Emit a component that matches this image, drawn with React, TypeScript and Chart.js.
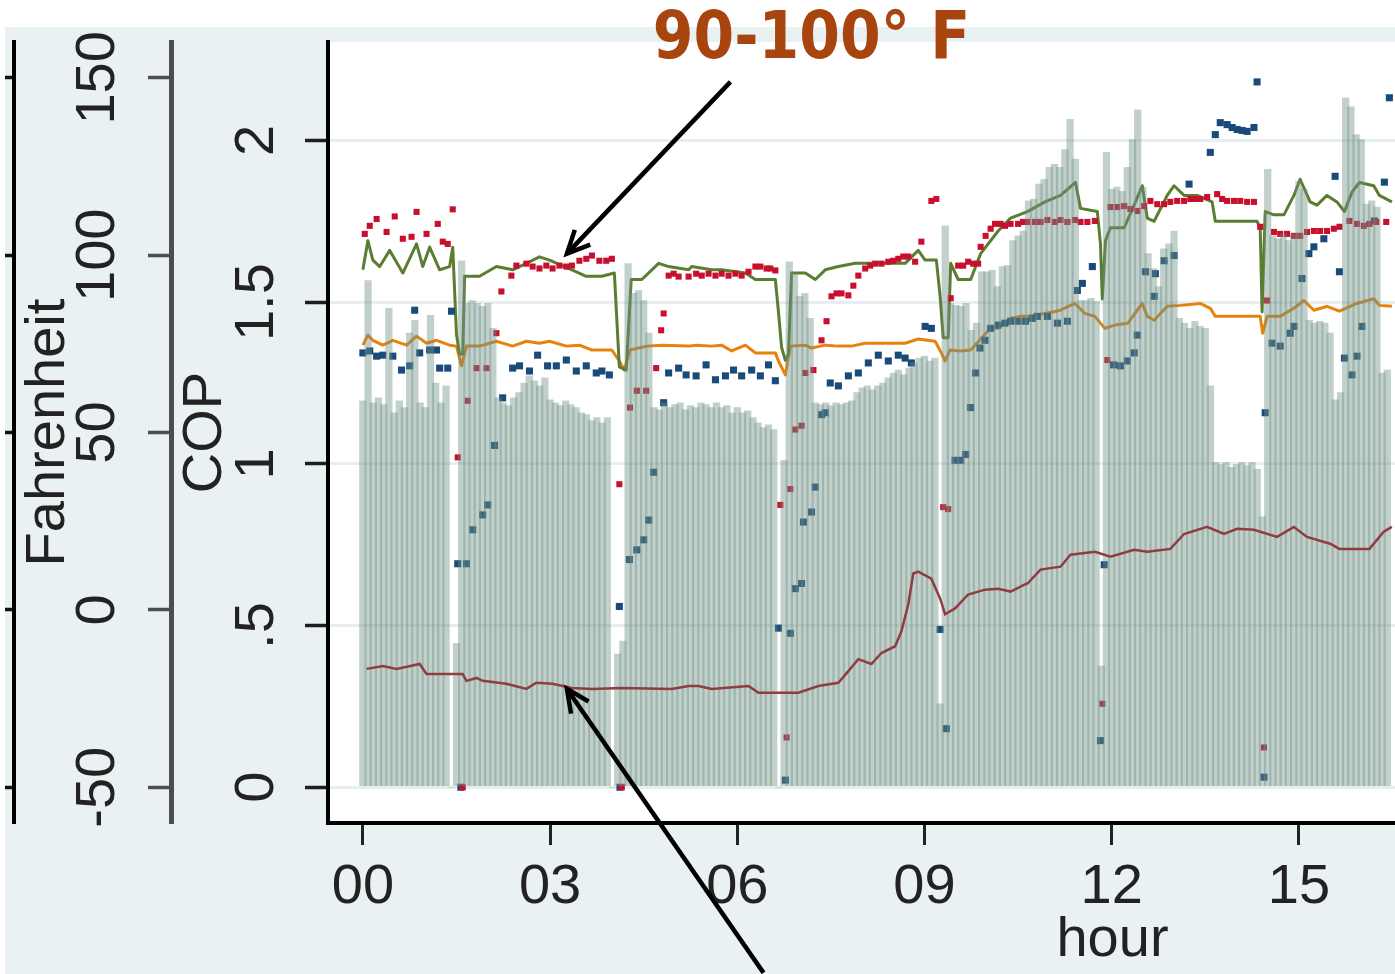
import React, { useEffect, useRef } from 'react';
import { Chart, registerables } from 'chart.js';

Chart.register(...registerables);

// ---------- axes ----------
const HOUR_MIN = -0.559;
const HOUR_MAX = 24.585;
const X_TICKS = [0, 3, 6, 9, 12, 15, 18, 21, 24];
const X_LABELS = ['00', '03', '06', '09', '12', '15', '18', '21', '24'];

const COP_MIN = -0.1106;
const COP_MAX = 2.3041;
const COP_TICKS = [0, 0.5, 1, 1.5, 2];
const COP_LABELS = ['0', '.5', '1', '1.5', '2'];

const F_MIN = -60.08;
const F_MAX = 160.08;
const F_TICKS = [-50, 0, 50, 100, 150];
const F_LABELS = ['-50', '0', '50', '100', '150'];

// ---------- bars (5-minute steps from hour 0), COP units ----------
const BAR_START_HOUR = 0;
const BAR_STEP_HOURS = 1 / 12;
const BAR_COP = [
  1.195, 1.567, 1.189, 1.204, 1.183, 1.481, 1.158, 1.195, 1.174, 1.404,
  1.444, 1.189, 1.174, 1.459, 1.250, 1.189, 1.241, 0, 0.445, 1.628,
  1.496, 1.505, 1.496, 1.487, 1.496, 1.419, 1.204, 1.189, 1.180, 1.204,
  1.220, 1.250, 1.272, 1.257, 1.241, 1.266, 1.198, 1.189, 1.180, 1.195,
  1.183, 1.174, 1.158, 1.152, 1.134, 1.143, 1.127, 1.143, 0, 0.412,
  0.452, 1.619, 1.527, 1.536, 1.505, 1.404, 1.174, 1.167, 1.189, 1.174,
  1.183, 1.189, 1.167, 1.180, 1.174, 1.189, 1.183, 1.174, 1.189, 1.174,
  1.180, 1.158, 1.174, 1.158, 1.164, 1.143, 1.127, 1.112, 1.121, 1.106,
  0, 1.011, 1.625, 1.588, 1.518, 1.527, 1.450, 1.189, 1.183, 1.189,
  1.180, 1.189, 1.183, 1.189, 1.195, 1.220, 1.235, 1.241, 1.229, 1.241,
  1.250, 1.266, 1.281, 1.290, 1.275, 1.296, 1.312, 1.327, 1.333, 1.318,
  1.327, 0.258, 1.736, 1.496, 1.490, 1.487, 1.496, 1.413, 1.435, 1.594,
  1.594, 1.598, 1.548, 1.610, 1.613, 1.690, 1.705, 1.720, 1.813, 1.819,
  1.865, 1.880, 1.917, 1.926, 1.917, 1.972, 2.065, 1.942, 1.505, 1.505,
  1.512, 1.502, 0.375, 1.963, 1.849, 1.856, 1.843, 1.917, 2.003, 2.095,
  1.856, 1.650, 1.604, 1.548, 1.665, 1.680, 1.720, 1.450, 1.435, 1.419,
  1.441, 1.425, 1.419, 1.241, 1.005, 0.998, 1.005, 0.989, 0.998, 1.005,
  0.995, 1.005, 0.983, 0.836, 1.911, 1.705, 1.696, 1.711, 1.690, 1.711,
  1.874, 1.849, 1.444, 1.435, 1.441, 1.435, 1.404, 1.198, 1.220, 2.132,
  2.104, 2.018, 2.003, 1.803, 1.813, 1.794, 1.281, 1.290,
];

// ---------- lines: [hour, COP] ----------
const GREEN_LINE = [
  [0, 1.60], [0.08, 1.69], [0.16, 1.63], [0.27, 1.61], [0.43, 1.66], [0.64, 1.59], [0.86, 1.68], [0.96, 1.61],
  [1.07, 1.67], [1.23, 1.60], [1.39, 1.61], [1.44, 1.67], [1.50, 1.40], [1.55, 1.34], [1.60, 1.34], [1.63, 1.58],
  [1.87, 1.58], [2.14, 1.61], [2.40, 1.60], [2.62, 1.62], [2.83, 1.64], [2.99, 1.63], [3.35, 1.60], [3.58, 1.58],
  [3.83, 1.58], [4.03, 1.59], [4.11, 1.30], [4.22, 1.29], [4.30, 1.57], [4.47, 1.57], [4.74, 1.62], [4.90, 1.61],
  [5.22, 1.60], [5.27, 1.61], [5.59, 1.60], [5.75, 1.60], [6.13, 1.59], [6.29, 1.57], [6.61, 1.57], [6.66, 1.47],
  [6.71, 1.36], [6.77, 1.32], [6.82, 1.34], [6.87, 1.59], [7.09, 1.59], [7.25, 1.57], [7.41, 1.60], [7.62, 1.61],
  [7.89, 1.62], [8.26, 1.62], [8.69, 1.62], [8.90, 1.66], [9.01, 1.63], [9.19, 1.63], [9.25, 1.52], [9.30, 1.39],
  [9.38, 1.39], [9.42, 1.62], [9.54, 1.57], [9.74, 1.57], [9.90, 1.65], [10.18, 1.72], [10.38, 1.76], [10.65, 1.78],
  [10.93, 1.81], [11.18, 1.83], [11.42, 1.87], [11.50, 1.79], [11.77, 1.78], [11.82, 1.68], [11.85, 1.51], [11.90, 1.69],
  [11.98, 1.73], [12.20, 1.73], [12.36, 1.80], [12.49, 1.86], [12.57, 1.76], [12.68, 1.75], [12.89, 1.83], [13.00, 1.86],
  [13.16, 1.83], [13.37, 1.83], [13.61, 1.81], [13.66, 1.75], [13.85, 1.75], [14.33, 1.75], [14.38, 1.73], [14.41, 1.47],
  [14.46, 1.78], [14.60, 1.77], [14.76, 1.77], [14.92, 1.83], [15.02, 1.88], [15.18, 1.81], [15.29, 1.80], [15.45, 1.83],
  [15.61, 1.81], [15.73, 1.78], [15.85, 1.84], [15.97, 1.87], [16.20, 1.86], [16.29, 1.83], [16.49, 1.81],
];

const ORANGE_LINE = [
  [0, 1.367], [0.08, 1.398], [0.16, 1.382], [0.32, 1.367], [0.48, 1.382], [0.70, 1.367], [0.86, 1.395], [1.02, 1.373],
  [1.18, 1.382], [1.39, 1.367], [1.50, 1.364], [1.58, 1.303], [1.66, 1.364], [1.87, 1.364], [2.14, 1.379], [2.40, 1.364],
  [2.62, 1.379], [2.83, 1.373], [2.99, 1.379], [3.26, 1.364], [3.47, 1.367], [3.67, 1.352], [3.99, 1.352], [4.11, 1.318],
  [4.19, 1.290], [4.28, 1.352], [4.55, 1.364], [4.79, 1.367], [5.22, 1.364], [5.34, 1.367], [5.59, 1.364], [5.75, 1.367],
  [5.91, 1.349], [6.13, 1.367], [6.29, 1.343], [6.61, 1.343], [6.66, 1.318], [6.77, 1.275], [6.85, 1.364], [7.09, 1.367],
  [7.19, 1.358], [7.41, 1.367], [7.62, 1.364], [7.83, 1.364], [8.05, 1.373], [8.37, 1.373], [8.69, 1.373], [8.90, 1.386],
  [9.17, 1.379], [9.27, 1.343], [9.33, 1.318], [9.41, 1.352], [9.58, 1.349], [9.74, 1.352], [9.90, 1.386], [10.06, 1.419],
  [10.18, 1.419], [10.38, 1.450], [10.54, 1.456], [10.65, 1.456], [10.93, 1.465], [11.18, 1.475], [11.41, 1.496], [11.57, 1.465],
  [11.73, 1.456], [11.89, 1.419], [12.05, 1.429], [12.26, 1.435], [12.49, 1.496], [12.57, 1.456], [12.68, 1.444], [12.89, 1.487],
  [13.10, 1.490], [13.42, 1.496], [13.58, 1.481], [13.66, 1.456], [14.38, 1.456], [14.42, 1.404], [14.49, 1.456], [14.70, 1.456],
  [14.92, 1.481], [15.08, 1.505], [15.24, 1.475], [15.45, 1.487], [15.65, 1.472], [15.93, 1.496], [16.20, 1.511], [16.29, 1.490],
  [16.49, 1.487],
];

const BROWN_LINE = [
  [0.06, 0.366], [0.32, 0.375], [0.54, 0.366], [0.91, 0.381], [1.02, 0.350], [1.23, 0.350], [1.60, 0.350], [1.66, 0.329],
  [1.82, 0.338], [1.92, 0.329], [2.30, 0.320], [2.62, 0.304], [2.78, 0.323], [3.04, 0.320], [3.35, 0.307], [3.67, 0.304],
  [4.15, 0.307], [4.95, 0.304], [5.22, 0.313], [5.38, 0.313], [5.59, 0.304], [6.18, 0.313], [6.34, 0.292], [6.98, 0.292],
  [7.30, 0.313], [7.62, 0.323], [7.78, 0.359], [7.94, 0.396], [8.15, 0.381], [8.31, 0.415], [8.53, 0.436], [8.63, 0.482],
  [8.74, 0.565], [8.82, 0.661], [8.90, 0.667], [9.11, 0.645], [9.25, 0.584], [9.33, 0.535], [9.49, 0.553], [9.70, 0.596],
  [9.97, 0.611], [10.18, 0.614], [10.38, 0.605], [10.61, 0.627], [10.65, 0.630], [10.86, 0.673], [11.18, 0.682], [11.34, 0.719],
  [11.73, 0.728], [11.98, 0.713], [12.36, 0.734], [12.57, 0.728], [12.94, 0.737], [13.16, 0.783], [13.53, 0.805], [13.80, 0.783],
  [14.01, 0.799], [14.28, 0.796], [14.65, 0.774], [14.92, 0.805], [15.13, 0.774], [15.50, 0.753], [15.65, 0.737], [16.13, 0.737],
  [16.36, 0.790], [16.49, 0.805],
];

// ---------- scatter points: [hour, COP] ----------
const RED_POINTS = [
  [0.03, 1.711], [0.11, 1.736], [0.22, 1.757], [0.38, 1.717], [0.51, 1.765], [0.64, 1.696], [0.78, 1.702], [0.86, 1.779],
  [1.02, 1.711], [1.20, 1.742], [1.28, 1.687], [1.36, 1.680], [1.44, 1.787], [1.52, 1.020], [1.60, 0.000], [1.68, 1.195],
  [1.82, 1.296], [1.98, 1.296], [2.14, 1.404], [2.22, 1.533], [2.38, 1.582], [2.46, 1.613], [2.62, 1.619], [2.72, 1.610],
  [2.83, 1.604], [2.94, 1.613], [3.04, 1.604], [3.15, 1.613], [3.26, 1.610], [3.35, 1.613], [3.47, 1.628], [3.58, 1.634],
  [3.67, 1.644], [3.79, 1.628], [3.90, 1.628], [3.99, 1.634], [4.11, 0.937], [4.15, 0.000], [4.28, 1.174], [4.39, 1.226],
  [4.54, 1.226], [4.70, 1.296], [4.78, 1.413], [4.82, 1.465], [4.90, 1.582], [4.98, 1.588], [5.06, 1.579], [5.22, 1.579],
  [5.34, 1.588], [5.43, 1.582], [5.54, 1.588], [5.65, 1.582], [5.75, 1.588], [5.86, 1.582], [5.97, 1.588], [6.07, 1.582],
  [6.18, 1.594], [6.29, 1.610], [6.37, 1.610], [6.47, 1.604], [6.53, 1.604], [6.61, 1.598], [6.69, 0.873], [6.79, 0.154],
  [6.85, 0.922], [6.93, 1.106], [7.03, 1.118], [7.09, 1.281], [7.22, 1.290], [7.35, 1.382], [7.43, 1.441], [7.51, 1.518],
  [7.59, 1.527], [7.67, 1.527], [7.78, 1.521], [7.86, 1.551], [7.94, 1.582], [8.05, 1.604], [8.13, 1.613], [8.21, 1.619],
  [8.31, 1.619], [8.42, 1.625], [8.50, 1.628], [8.58, 1.634], [8.66, 1.641], [8.74, 1.641], [8.85, 1.625], [8.95, 1.687],
  [9.11, 1.813], [9.19, 1.819], [9.30, 0.866], [9.38, 0.860], [9.42, 1.512], [9.54, 1.613], [9.62, 1.613], [9.70, 1.625],
  [9.78, 1.619], [9.86, 1.619], [9.90, 1.671], [9.98, 1.705], [10.06, 1.727], [10.13, 1.742], [10.22, 1.742], [10.29, 1.736],
  [10.38, 1.742], [10.50, 1.742], [10.58, 1.748], [10.65, 1.748], [10.77, 1.748], [10.86, 1.748], [10.97, 1.754], [11.09, 1.748],
  [11.18, 1.754], [11.29, 1.748], [11.41, 1.754], [11.50, 1.748], [11.61, 1.748], [11.73, 1.751], [11.85, 0.258], [11.93, 1.321],
  [11.98, 1.794], [12.09, 1.794], [12.20, 1.797], [12.30, 1.788], [12.41, 1.782], [12.52, 1.797], [12.62, 1.813], [12.73, 1.803],
  [12.84, 1.803], [12.94, 1.810], [13.05, 1.813], [13.16, 1.813], [13.26, 1.819], [13.34, 1.819], [13.42, 1.819], [13.53, 1.825],
  [13.69, 1.834], [13.77, 1.819], [13.85, 1.813], [13.96, 1.813], [14.06, 1.813], [14.17, 1.810], [14.28, 1.810], [14.38, 1.733],
  [14.44, 0.123], [14.49, 1.505], [14.60, 1.717], [14.70, 1.711], [14.81, 1.711], [14.92, 1.705], [15.02, 1.705], [15.13, 1.717],
  [15.24, 1.720], [15.34, 1.720], [15.45, 1.720], [15.56, 1.727], [15.65, 1.733], [15.81, 1.751], [15.93, 1.742], [16.04, 1.736],
  [16.13, 1.742], [16.24, 1.748], [16.40, 1.748],
];

const BLUE_POINTS = [
  [0.00, 1.343], [0.11, 1.349], [0.22, 1.333], [0.32, 1.336], [0.48, 1.333], [0.62, 1.290], [0.75, 1.303], [0.83, 1.475],
  [0.91, 1.343], [1.07, 1.352], [1.18, 1.352], [1.23, 1.296], [1.36, 1.296], [1.42, 1.472], [1.52, 0.691], [1.57, 0.000],
  [1.66, 0.691], [1.76, 0.796], [1.92, 0.842], [2.00, 0.873], [2.11, 1.057], [2.24, 1.204], [2.40, 1.296], [2.51, 1.303],
  [2.67, 1.287], [2.80, 1.336], [2.96, 1.303], [3.10, 1.303], [3.26, 1.321], [3.42, 1.287], [3.58, 1.303], [3.74, 1.281],
  [3.83, 1.287], [3.95, 1.275], [4.11, 0.559], [4.12, 0.000], [4.27, 0.704], [4.39, 0.734], [4.50, 0.765], [4.58, 0.826],
  [4.66, 0.974], [4.82, 1.189], [4.90, 1.281], [5.06, 1.296], [5.18, 1.275], [5.34, 1.272], [5.50, 1.306], [5.65, 1.260],
  [5.81, 1.272], [5.94, 1.290], [6.07, 1.272], [6.23, 1.290], [6.37, 1.272], [6.50, 1.306], [6.61, 1.257], [6.66, 0.492],
  [6.77, 0.022], [6.85, 0.476], [6.93, 0.614], [7.03, 0.630], [7.06, 0.820], [7.19, 0.851], [7.25, 0.928], [7.35, 1.152],
  [7.41, 1.158], [7.49, 1.250], [7.62, 1.241], [7.78, 1.272], [7.94, 1.281], [8.10, 1.312], [8.26, 1.336], [8.42, 1.318],
  [8.58, 1.336], [8.69, 1.327], [8.79, 1.312], [9.01, 1.425], [9.11, 1.419], [9.25, 0.488], [9.35, 0.181], [9.49, 1.011],
  [9.58, 1.011], [9.66, 1.029], [9.74, 1.174], [9.82, 1.281], [9.89, 1.358], [9.97, 1.382], [10.06, 1.419], [10.18, 1.429],
  [10.29, 1.435], [10.38, 1.441], [10.50, 1.441], [10.62, 1.441], [10.73, 1.450], [10.81, 1.456], [10.97, 1.456], [11.13, 1.435],
  [11.29, 1.441], [11.45, 1.536], [11.53, 1.558], [11.69, 1.610], [11.82, 0.144], [11.88, 0.688], [12.03, 1.306], [12.14, 1.303],
  [12.25, 1.318], [12.36, 1.343], [12.41, 1.398], [12.54, 1.594], [12.68, 1.518], [12.70, 1.588], [12.84, 1.628], [13.00, 1.644],
  [13.24, 1.865], [13.58, 1.963], [13.66, 2.018], [13.74, 2.055], [13.85, 2.049], [13.93, 2.040], [14.01, 2.034], [14.09, 2.031],
  [14.17, 2.028], [14.28, 2.040], [14.33, 2.181], [14.44, 0.031], [14.46, 1.158], [14.57, 1.373], [14.70, 1.364], [14.86, 1.404],
  [14.92, 1.425], [15.05, 1.573], [15.16, 1.650], [15.24, 1.671], [15.40, 1.696], [15.58, 1.889], [15.65, 1.594], [15.73, 1.327],
  [15.85, 1.275], [15.93, 1.333], [16.01, 1.425], [16.21, 1.751], [16.37, 1.871], [16.45, 2.132],
];

// ---------- annotation (anchored in data units) ----------
const NOTE_TEXT = '90-100° F';
const NOTE_AT = { hour: 7.19, cop: 2.255 };
const ARROWS = [
  { from: { hour: 5.89, cop: 2.181 }, to: { hour: 3.27, cop: 1.650 } },
  { from: { hour: 6.42, cop: -0.574 }, to: { hour: 3.27, cop: 0.304 } },
];

// ---------- styles ----------
const FONT = "'Liberation Sans', Arial, sans-serif";
const TEXT_COLOR = '#222222';
const OUTER_BG = '#e9f1f3';
const GRID_COLOR = '#e6eef1';

const pairs = (arr: number[][]) => arr.map(([x, y]) => ({ x, y }));

const backgroundPlugin = {
  id: 'stataBackground',
  beforeDraw(chart: any) {
    const { ctx, chartArea } = chart;
    ctx.save();
    ctx.fillStyle = '#ffffff';
    ctx.fillRect(0, 0, chart.width, chart.height);
    ctx.fillStyle = OUTER_BG;
    ctx.fillRect(5, 27, chart.width - 5, chart.height - 27);
    ctx.fillStyle = '#ffffff';
    ctx.fillRect(chartArea.left, chartArea.top, chartArea.right - chartArea.left, chartArea.bottom - chartArea.top);
    ctx.restore();
  },
};

const annotationPlugin = {
  id: 'noteArrows',
  afterDraw(chart: any) {
    const { ctx } = chart;
    const xs = chart.scales.x;
    const ys = chart.scales.y;
    ctx.save();
    ctx.strokeStyle = '#000000';
    ctx.lineWidth = 4.5;
    ctx.lineJoin = 'miter';
    ctx.lineCap = 'butt';
    for (const a of ARROWS) {
      const x1 = xs.getPixelForValue(a.from.hour);
      const y1 = ys.getPixelForValue(a.from.cop);
      const x2 = xs.getPixelForValue(a.to.hour);
      const y2 = ys.getPixelForValue(a.to.cop);
      ctx.beginPath();
      ctx.moveTo(x1, y1);
      ctx.lineTo(x2, y2);
      ctx.stroke();
      const ang = Math.atan2(y2 - y1, x2 - x1);
      const L = 25;
      const spread = 0.44;
      ctx.beginPath();
      ctx.moveTo(x2 - L * Math.cos(ang - spread), y2 - L * Math.sin(ang - spread));
      ctx.lineTo(x2, y2);
      ctx.lineTo(x2 - L * Math.cos(ang + spread), y2 - L * Math.sin(ang + spread));
      ctx.stroke();
    }
    const tx = xs.getPixelForValue(NOTE_AT.hour);
    const ty = ys.getPixelForValue(NOTE_AT.cop);
    ctx.translate(tx, ty);
    ctx.scale(0.9, 1);
    ctx.font = "bold 65px 'DejaVu Sans', Verdana, sans-serif";
    ctx.fillStyle = '#a8440e';
    ctx.textAlign = 'center';
    ctx.textBaseline = 'alphabetic';
    ctx.fillText(NOTE_TEXT, 0, 0);
    ctx.restore();
  },
};

const labelFor = (values: number[], labels: string[]) => (v: any) => {
  const i = values.indexOf(Number(v));
  return i >= 0 ? labels[i] : '';
};

export default function App() {
  const canvasRef = useRef<HTMLCanvasElement | null>(null);

  useEffect(() => {
    const canvas = canvasRef.current;
    if (!canvas) return;
    Chart.defaults.font.family = FONT;

    const bars = BAR_COP.map((v, i) => ({ x: BAR_START_HOUR + i * BAR_STEP_HOURS, y: v }));

    const tickFont = { size: 56, family: FONT };

    const chart = new Chart(canvas, {
      type: 'scatter',
      data: {
        datasets: [
          {
            type: 'line', label: 'Brown', data: pairs(BROWN_LINE), showLine: true,
            borderColor: '#8e3d41', borderWidth: 2.5, pointRadius: 0, tension: 0, order: 0, yAxisID: 'y',
          },
          {
            type: 'bar', label: 'Bars', data: bars, backgroundColor: 'rgba(110,142,132,0.42)',
            borderWidth: 0, barThickness: 6.6, order: 1, yAxisID: 'y',
          },
          {
            type: 'line', label: 'Red', data: pairs(RED_POINTS), showLine: false, pointStyle: 'rect',
            pointRadius: 4.3, pointBackgroundColor: '#c8102e', pointBorderWidth: 0, order: 2, yAxisID: 'y',
          },
          {
            type: 'line', label: 'Blue', data: pairs(BLUE_POINTS), showLine: false, pointStyle: 'rect',
            pointRadius: 5, pointBackgroundColor: '#1a4a7a', pointBorderWidth: 0, order: 3, yAxisID: 'y',
          },
          {
            type: 'line', label: 'Green', data: pairs(GREEN_LINE), showLine: true,
            borderColor: '#5a7d32', borderWidth: 3, pointRadius: 0, tension: 0, borderJoinStyle: 'round', order: 4, yAxisID: 'y',
          },
          {
            type: 'line', label: 'Orange', data: pairs(ORANGE_LINE), showLine: true,
            borderColor: '#e8820c', borderWidth: 3, pointRadius: 0, tension: 0, borderJoinStyle: 'round', order: 5, yAxisID: 'y',
          },
        ],
      } as any,
      options: {
        responsive: false,
        animation: false,
        devicePixelRatio: 1,
        events: [],
        layout: { padding: { top: 37, left: 0, right: 0, bottom: 0 } },
        plugins: { legend: { display: false }, tooltip: { enabled: false } },
        scales: {
          x: {
            type: 'linear', position: 'bottom', min: HOUR_MIN, max: HOUR_MAX, offset: false,
            afterBuildTicks: (s: any) => { s.ticks = X_TICKS.map((value) => ({ value })); },
            afterFit: (s: any) => { s.height = 151; },
            grid: { drawOnChartArea: false, drawTicks: true, tickLength: 22, tickColor: '#222', tickWidth: 3, offset: false },
            border: { display: true, color: '#000', width: 4 },
            ticks: { autoSkip: false, maxRotation: 0, minRotation: 0, padding: 9, font: tickFont, color: TEXT_COLOR,
              callback: labelFor(X_TICKS, X_LABELS) },
            title: { display: true, text: 'hour', font: tickFont, color: TEXT_COLOR, padding: { top: 0, bottom: 0 } },
          },
          y: {
            type: 'linear', position: 'left', weight: 0, min: COP_MIN, max: COP_MAX,
            afterBuildTicks: (s: any) => { s.ticks = COP_TICKS.map((value) => ({ value })); },
            afterFit: (s: any) => { s.width = 157; },
            grid: { drawOnChartArea: true, color: GRID_COLOR, lineWidth: 3, drawTicks: true, tickLength: 23, tickColor: '#1e1e1e', tickWidth: 3.5 },
            border: { display: true, color: '#000', width: 4 },
            ticks: { autoSkip: false, minRotation: 90, maxRotation: 90, crossAlign: 'center', padding: 8.5,
              font: tickFont, color: TEXT_COLOR, callback: labelFor(COP_TICKS, COP_LABELS) },
            title: { display: true, text: 'COP', font: tickFont, color: TEXT_COLOR, padding: { top: 1, bottom: 0 } },
          },
          yF: {
            type: 'linear', position: 'left', weight: 1, min: F_MIN, max: F_MAX,
            afterBuildTicks: (s: any) => { s.ticks = F_TICKS.map((value) => ({ value })); },
            afterFit: (s: any) => { s.width = 157; },
            grid: { drawOnChartArea: false, drawTicks: true, tickLength: 23, tickColor: '#4d4d4d', tickWidth: 3.5 },
            border: { display: true, color: '#4d4d4d', width: 5 },
            ticks: { autoSkip: false, minRotation: 90, maxRotation: 90, crossAlign: 'center', padding: 3,
              font: tickFont, color: TEXT_COLOR, callback: labelFor(F_TICKS, F_LABELS) },
            title: { display: true, text: 'Fahrenheit', font: tickFont, color: TEXT_COLOR, padding: { top: 1, bottom: 0 } },
          },
          yOuter: {
            type: 'linear', position: 'left', weight: 2, min: F_MIN, max: F_MAX,
            afterBuildTicks: (s: any) => { s.ticks = F_TICKS.map((value) => ({ value })); },
            afterFit: (s: any) => { s.width = 14; },
            grid: { drawOnChartArea: false, drawTicks: true, tickLength: 9, tickColor: '#111', tickWidth: 3.5 },
            border: { display: true, color: '#000', width: 4 },
            ticks: { display: false },
            title: { display: false },
          },
        },
      } as any,
      plugins: [backgroundPlugin, annotationPlugin],
    });

    return () => chart.destroy();
  }, []);

  return (
    <div style={{ position: 'fixed', left: 0, top: 0, width: 1395, height: 974, overflow: 'hidden', background: '#ffffff' }}>
      <canvas ref={canvasRef} width={1902} height={974} style={{ display: 'block', width: 1902, height: 974 }} />
    </div>
  );
}
